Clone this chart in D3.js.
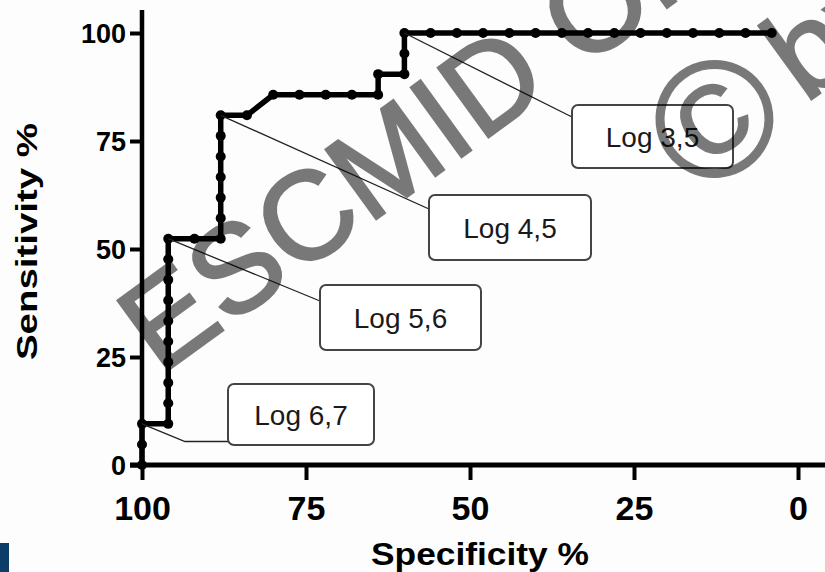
<!DOCTYPE html>
<html><head><meta charset="utf-8">
<script src="https://cdn.jsdelivr.net/npm/d3@7"></script>
<style>html,body{margin:0;padding:0;background:#fdfdfd;} svg{display:block;}</style>
</head><body>
<svg id="chart" width="825" height="572"></svg>
<script>
// ---- data ----
const specificity = [100,100,100,96,96,96,96,96,96,96,96,96,96,92,88,88,88,88,88,88,88,84,80,76,72,68,64,64,60,60,60,56,52,48,44,40,36,32,28,24,20,16,12,8,4];
const sensitivity = [0,4.76,9.52,9.52,14.29,19.05,23.81,28.57,33.33,38.10,42.86,47.62,52.38,52.38,52.38,57.14,61.90,66.67,71.43,76.19,80.95,80.95,85.71,85.71,85.71,85.71,85.71,90.48,90.48,95.24,100,100,100,100,100,100,100,100,100,100,100,100,100,100,100];
const xTicks = [100,75,50,25,0];
const yTicks = [0,25,50,75,100];
const labelTexts = ["Log 3,5","Log 4,5","Log 5,6","Log 6,7"];
const labelSpec = [60,88,96,100];
const labelSens = [100,80.95,52.38,9.52];
const xTitle = "Specificity %";
const yTitle = "Sensitivity %";
const watermarkLine1 = "ESCMID Online";
const watermarkCopy = "©";
const watermarkLine2 = "by author";

// ---- layout ----
const boxes = [
  {x:572,y:105,w:161,h:63,ay:117},
  {x:429,y:195,w:162,h:65,ay:209},
  {x:320,y:285,w:161,h:65,ay:301},
  {x:228,y:384,w:146,h:61,ay:441.5,elbowX:185}
];
const FONT = "'Liberation Sans', Arial, Helvetica, sans-serif";

const svg = d3.select("#chart");
svg.append("rect").attr("width",825).attr("height",572).attr("fill","#fdfdfd");

const x = d3.scaleLinear().domain([100,0]).range([142,798]);
const y = d3.scaleLinear().domain([0,100]).range([465,33]);

// axes
const gx = svg.append("g").attr("transform","translate(0,465)")
  .call(d3.axisBottom(x).tickValues(xTicks).tickSize(15).tickFormat(d3.format("d")));
gx.select(".domain").remove();
gx.selectAll(".tick line").attr("stroke","#000").attr("stroke-width",4);
gx.selectAll(".tick text").attr("y",55).attr("dy",0)
  .attr("font-family",FONT).attr("font-weight","bold").attr("font-size",34).attr("fill","#000");

const gy = svg.append("g").attr("transform","translate(143,0)")
  .call(d3.axisLeft(y).tickValues(yTicks).tickSize(13).tickFormat(d3.format("d")));
gy.select(".domain").remove();
gy.selectAll(".tick line").attr("stroke","#000").attr("stroke-width",4);
gy.selectAll(".tick text").attr("x",-17).attr("dy","0.36em")
  .attr("font-family",FONT).attr("font-weight","bold").attr("font-size",27).attr("fill","#000");

// axis lines
svg.append("line").attr("x1",130).attr("x2",825).attr("y1",y(0)).attr("y2",y(0))
  .attr("stroke","#000").attr("stroke-width",5);
svg.append("line").attr("x1",x(100)).attr("x2",x(100)).attr("y1",10).attr("y2",y(0)+2)
  .attr("stroke","#000").attr("stroke-width",4.5);

// titles
svg.append("text").attr("x",480).attr("y",565).attr("text-anchor","middle")
  .attr("font-family",FONT).attr("font-weight","bold").attr("font-size",31)
  .attr("textLength",218).attr("lengthAdjust","spacingAndGlyphs").text(xTitle);
svg.append("text").attr("transform","translate(37,241.5) rotate(-90)").attr("text-anchor","middle")
  .attr("font-family",FONT).attr("font-weight","bold").attr("font-size",30)
  .attr("textLength",237).attr("lengthAdjust","spacingAndGlyphs").text(yTitle);

// curve
const pts = specificity.map((s,i)=>[s,sensitivity[i]]);
svg.append("path").datum(pts)
  .attr("d", d3.line().x(d=>x(d[0])).y(d=>y(d[1])))
  .attr("fill","none").attr("stroke","#000").attr("stroke-width",5.5).attr("stroke-linejoin","round");
svg.append("g").selectAll("circle").data(pts).join("circle")
  .attr("cx",d=>x(d[0])).attr("cy",d=>y(d[1])).attr("r",5).attr("fill","#000");

// annotations
labelTexts.forEach((t,i)=>{
  const b = boxes[i];
  const px = x(labelSpec[i]), py = y(labelSens[i]);
  const pathPts = b.elbowX ? [[px,py],[b.elbowX,b.ay],[b.x,b.ay]] : [[px,py],[b.x,b.ay]];
  svg.append("path").attr("d", d3.line()(pathPts)).attr("fill","none")
    .attr("stroke","#222").attr("stroke-width",1.3);
  svg.append("rect").attr("x",b.x).attr("y",b.y).attr("width",b.w).attr("height",b.h)
    .attr("rx",6).attr("fill","#fff").attr("stroke","#444").attr("stroke-width",2);
  svg.append("text").attr("x",b.x+b.w/2).attr("y",b.y+b.h/2+10).attr("text-anchor","middle")
    .attr("font-family",FONT).attr("font-size",28).attr("fill","#1a1a1a").text(t);
});

// watermark
const wm = svg.append("g").attr("font-family",FONT).attr("font-size",125)
  .attr("fill","#000").attr("stroke","#000").attr("stroke-width",2.5).attr("opacity",0.52);
wm.append("text").attr("transform","translate(160,376) rotate(-36)").text(watermarkLine1);
wm.append("text").attr("transform","translate(713,117) rotate(-36)").attr("text-anchor","middle")
  .attr("dy","0.36em").attr("font-size",165).attr("stroke-width",1.5).text(watermarkCopy);
wm.append("text").attr("transform","translate(805,104) rotate(-36)").text(watermarkLine2);

// corner mark
svg.append("rect").attr("x",0).attr("y",543).attr("width",9).attr("height",29).attr("fill","#0b3d68");
</script>
</body></html>
